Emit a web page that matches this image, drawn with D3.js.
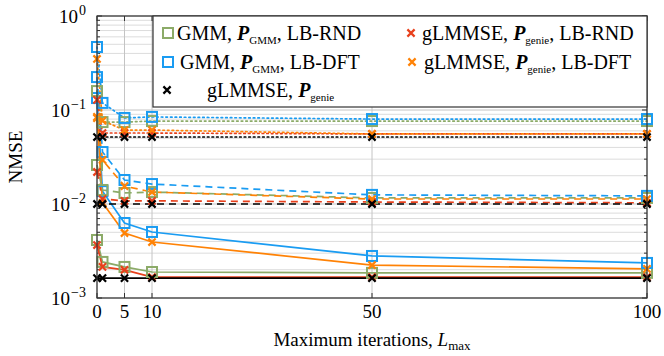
<!DOCTYPE html>
<html>
<head>
<meta charset="utf-8">
<script src="https://cdn.jsdelivr.net/npm/d3@7"></script>
<style>
  body { margin: 0; background: #fff; }
  text { font-family: "Liberation Serif", "Times New Roman", serif; fill: #000; }
</style>
</head>
<body>
<div id="chart"></div>
<script>
// datos
const iterations = [0, 1, 5, 10, 50, 100]
const xTicks = [0, 5, 10, 50, 100]
const yTicks = [1e-3, 1e-2, 1e-1, 1]
const yTickExp = ["−3", "−2", "−1", "0"]

// linea continua
const gmmRndSolid = [0.00414, 0.00242, 0.00214, 0.00189, 0.00185, 0.00185]
const gmmDftSolid = [0.134, 0.0137, 0.00628, 0.00504, 0.00280, 0.00236]
const glRndSolid  = [0.00366, 0.00214, 0.00199, 0.00167, 0.00167, 0.00167]
const glDftSolid  = [0.082, 0.0103, 0.00491, 0.00394, 0.00224, 0.00204]
const genieSolid  = [0.00163, 0.00163, 0.00163, 0.00163, 0.00163, 0.00163]
// linea discontinua
const gmmRndDashed = [0.0260, 0.0141, 0.0131, 0.0134, 0.0116, 0.0116]
const gmmDftDashed = [0.224, 0.0357, 0.0180, 0.0163, 0.0125, 0.0122]
const glRndDashed  = [0.0219, 0.0113, 0.0108, 0.0108, 0.0105, 0.0103]
const glDftDashed  = [0.0844, 0.0294, 0.0155, 0.0134, 0.0113, 0.0113]
const genieDashed  = [0.0100, 0.0100, 0.0100, 0.0100, 0.0100, 0.0100]
// linea punteada
const gmmRndDotted = [0.159, 0.0744, 0.0744, 0.0763, 0.0763, 0.0763]
const gmmDftDotted = [0.468, 0.119, 0.0823, 0.0844, 0.0801, 0.0801]
const glRndDotted  = [0.128, 0.0569, 0.0569, 0.0569, 0.0556, 0.0556]
const glDftDotted  = [0.349, 0.077, 0.0612, 0.0612, 0.0556, 0.0556]
const genieDotted  = [0.0516, 0.0516, 0.0516, 0.0516, 0.0516, 0.0516]

const green = "#8cab68", blue = "#1a9cf2", red = "#e8401c", orange = "#ff8205", black = "#000"

const series = [
  {values: gmmRndSolid, color: green, mark: "square", dash: null},
  {values: gmmDftSolid, color: blue, mark: "square", dash: null},
  {values: glRndSolid, color: red, mark: "cross", dash: null},
  {values: glDftSolid, color: orange, mark: "cross", dash: null},
  {values: genieSolid, color: black, mark: "cross", dash: null},
  {values: gmmRndDashed, color: green, mark: "square", dash: "7,5"},
  {values: gmmDftDashed, color: blue, mark: "square", dash: "7,5"},
  {values: glRndDashed, color: red, mark: "cross", dash: "7,5"},
  {values: glDftDashed, color: orange, mark: "cross", dash: "7,5"},
  {values: genieDashed, color: black, mark: "cross", dash: "7,5"},
  {values: gmmRndDotted, color: green, mark: "square", dash: "1.6,3"},
  {values: gmmDftDotted, color: blue, mark: "square", dash: "1.6,3"},
  {values: glRndDotted, color: red, mark: "cross", dash: "1.6,3"},
  {values: glDftDotted, color: orange, mark: "cross", dash: "1.6,3"},
  {values: genieDotted, color: black, mark: "cross", dash: "1.6,3"}
]

// boceto
const width = 664
const height = 356
const margin = {top: 16, bottom: 58, left: 97, right: 17}

const svg = d3.select("#chart")
  .append("svg")
  .attr("width", width)
  .attr("height", height)

const x = d3.scaleLinear().domain([0, 100]).range([margin.left, width - margin.right])
const y = d3.scaleLog().domain([1e-3, 1]).range([height - margin.bottom, margin.top])

const x0 = x.range()[0], x1 = x.range()[1]
const y0 = y.range()[0], y1 = y.range()[1]

// rejilla
const minor = []
for (let e = -3; e < 0; e++) for (let k = 2; k <= 9; k++) minor.push(k * Math.pow(10, e))

const grid = svg.append("g").attr("id", "grid")
grid.selectAll(".minor").data(minor).enter().append("line")
  .attr("x1", x0).attr("x2", x1)
  .attr("y1", d => y(d)).attr("y2", d => y(d))
  .attr("stroke", "#dcdcdc").attr("stroke-width", 1)
grid.selectAll(".major").data(yTicks).enter().append("line")
  .attr("x1", x0).attr("x2", x1)
  .attr("y1", d => y(d)).attr("y2", d => y(d))
  .attr("stroke", "#c4c4c4").attr("stroke-width", 1)
grid.selectAll(".vert").data(xTicks).enter().append("line")
  .attr("x1", d => x(d)).attr("x2", d => x(d))
  .attr("y1", y0).attr("y2", y1)
  .attr("stroke", "#c4c4c4").attr("stroke-width", 1)

// ticks
const ticks = svg.append("g").attr("stroke", "#333").attr("stroke-width", 1)
yTicks.forEach(t => {
  ticks.append("line").attr("x1", x0).attr("x2", x0 + 5).attr("y1", y(t)).attr("y2", y(t))
  ticks.append("line").attr("x1", x1).attr("x2", x1 - 5).attr("y1", y(t)).attr("y2", y(t))
})
minor.forEach(t => {
  ticks.append("line").attr("x1", x0).attr("x2", x0 + 3).attr("y1", y(t)).attr("y2", y(t))
  ticks.append("line").attr("x1", x1).attr("x2", x1 - 3).attr("y1", y(t)).attr("y2", y(t))
})
xTicks.forEach(t => {
  ticks.append("line").attr("x1", x(t)).attr("x2", x(t)).attr("y1", y0).attr("y2", y0 - 5)
  ticks.append("line").attr("x1", x(t)).attr("x2", x(t)).attr("y1", y1).attr("y2", y1 + 5)
})

// lineas
const line = d3.line().x((d, i) => x(iterations[i])).y(d => y(d))
const plot = svg.append("g").attr("id", "plot")

function drawMark(g, kind, color, cx, cy) {
  if (kind === "square") {
    g.append("rect")
      .attr("x", cx - 5).attr("y", cy - 5)
      .attr("width", 10).attr("height", 10)
      .attr("fill", "none").attr("stroke", color).attr("stroke-width", 2)
  } else {
    const s = 3.6
    g.append("path")
      .attr("d", `M${cx - s},${cy - s}L${cx + s},${cy + s}M${cx - s},${cy + s}L${cx + s},${cy - s}`)
      .attr("stroke", color).attr("stroke-width", 2.2).attr("fill", "none")
  }
}

series.forEach(s => {
  plot.append("path")
    .datum(s.values)
    .attr("d", line)
    .attr("fill", "none")
    .attr("stroke", s.color)
    .attr("stroke-width", 1.7)
    .attr("stroke-dasharray", s.dash)
    .attr("stroke-linecap", s.dash && s.dash.startsWith("1.6") ? "round" : "butt")
})
series.forEach(s => {
  s.values.forEach((v, i) => drawMark(plot, s.mark, s.color, x(iterations[i]), y(v)))
})

// marco
svg.append("rect")
  .attr("x", x0).attr("y", y1)
  .attr("width", x1 - x0).attr("height", y0 - y1)
  .attr("fill", "none").attr("stroke", "#333").attr("stroke-width", 1.2)

// etiquetas de ejes
svg.selectAll(".xtick").data(xTicks).enter().append("text")
  .attr("x", d => x(d)).attr("y", y0 + 20)
  .attr("text-anchor", "middle").attr("font-size", 19)
  .text(d => d)

const yl = svg.selectAll(".ytick").data(yTicks).enter().append("text")
  .attr("x", 86).attr("y", d => y(d) + 7)
  .attr("text-anchor", "end").attr("font-size", 19)
yl.append("tspan").text("10")
yl.append("tspan").attr("dy", -8).attr("dx", 1).attr("font-size", 14).text((d, i) => yTickExp[i])

svg.append("text")
  .attr("transform", `translate(22, ${(y0 + y1) / 2}) rotate(-90)`)
  .attr("text-anchor", "middle").attr("font-size", 19)
  .text("NMSE")

const xl = svg.append("text")
  .attr("x", (x0 + x1) / 2).attr("y", 346)
  .attr("text-anchor", "middle").attr("font-size", 19)
xl.append("tspan").text("Maximum iterations, ")
xl.append("tspan").attr("font-style", "italic").text("L")
xl.append("tspan").attr("dy", 4).attr("font-size", 13).text("max")

// leyenda
const legend = svg.append("g").attr("id", "legend")
legend.append("rect")
  .attr("x", 153).attr("y", y1)
  .attr("width", x1 - 153).attr("height", 91)
  .attr("fill", "#fff").attr("stroke", "#333").attr("stroke-width", 1.2)

const legendItems = [
  {mark: "square", color: green, mx: 168, tx: 177, ty: 40, sub: "GMM", pre: "GMM, ", post: ", LB-RND"},
  {mark: "square", color: blue, mx: 168, tx: 180, ty: 69, sub: "GMM", pre: "GMM, ", post: ", LB-DFT"},
  {mark: "cross", color: black, mx: 167, tx: 207, ty: 97, sub: "genie", pre: "gLMMSE, ", post: ""},
  {mark: "cross", color: red, mx: 411, tx: 422, ty: 40, sub: "genie", pre: "gLMMSE, ", post: ", LB-RND"},
  {mark: "cross", color: orange, mx: 412, tx: 424, ty: 69, sub: "genie", pre: "gLMMSE, ", post: ", LB-DFT"}
]

legendItems.forEach(d => {
  drawMark(legend, d.mark, d.color, d.mx, d.ty - 7)
  const t = legend.append("text").attr("x", d.tx).attr("y", d.ty).attr("font-size", 20)
  t.append("tspan").text(d.pre)
  t.append("tspan").attr("font-weight", "bold").attr("font-style", "italic").text("P")
  t.append("tspan").attr("dy", 4).attr("font-size", 11).text(d.sub)
  t.append("tspan").attr("dy", -4).text(d.post)
})
</script>
</body>
</html>
